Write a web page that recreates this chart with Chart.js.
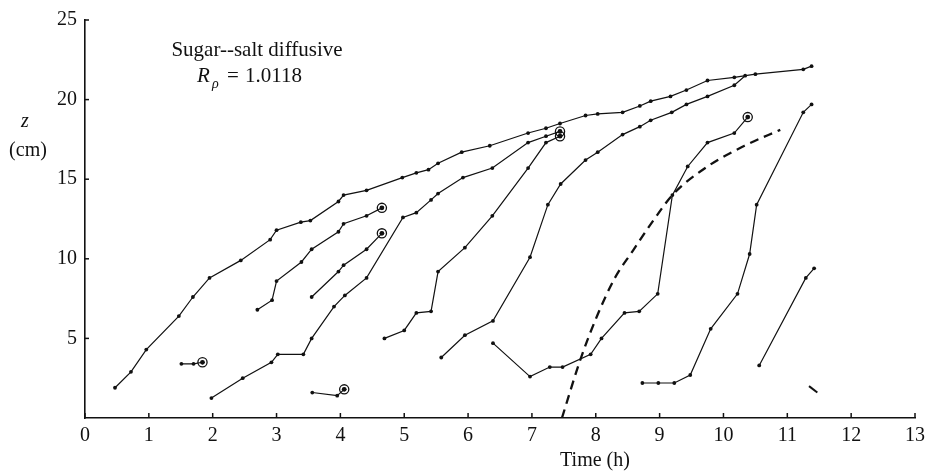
<!DOCTYPE html>
<html>
<head>
<meta charset="utf-8">
<script src="https://cdn.jsdelivr.net/npm/chart.js@4/dist/chart.umd.min.js"></script>
<style>
  html, body { margin: 0; padding: 0; background: #fff; }
  canvas { display: block; }
</style>
</head>
<body>
<canvas id="zplot" width="931" height="474"></canvas>
<script>
// interface heights z (cm) against time (h), one array per tracked layer
const topLayer = [[0.47,1.9],[0.72,2.9],[0.96,4.3],[1.47,6.4],[1.69,7.6],[1.95,8.8],[2.44,9.9],[2.9,11.2],[3.0,11.8],[3.38,12.3],[3.53,12.4],[3.97,13.6],[4.05,14.0],[4.41,14.3],[4.97,15.1],[5.19,15.4],[5.38,15.6],[5.53,16.0],[5.9,16.7],[6.34,17.1],[6.94,17.9],[7.22,18.2],[7.44,18.5],[7.84,19.0],[8.03,19.1],[8.42,19.2],[8.69,19.6],[8.86,19.9],[9.17,20.2],[9.42,20.6],[9.75,21.2],[10.17,21.4],[10.5,21.6],[11.25,21.9],[11.38,22.1]];
const layerB = [[2.7,6.8],[2.93,7.4],[3.0,8.6],[3.39,9.8],[3.55,10.6],[3.97,11.7],[4.05,12.2],[4.41,12.7],[4.65,13.2]];
const layerC = [[3.55,7.6],[3.97,9.2],[4.05,9.6],[4.41,10.6],[4.65,11.6]];
const layerD = [[1.98,1.25],[2.47,2.5],[2.92,3.5],[3.02,4.0],[3.42,4.0],[3.55,5.0],[3.9,7.0],[4.07,7.7],[4.41,8.8],[4.98,12.6],[5.19,12.9],[5.42,13.7],[5.53,14.1],[5.92,15.1],[6.38,15.7],[6.94,17.3],[7.22,17.7],[7.44,18.0]];
const layerE = [[4.69,5.0],[5.0,5.5],[5.19,6.6],[5.42,6.7],[5.53,9.2],[5.95,10.7],[6.38,12.7],[6.94,15.7],[7.22,17.3],[7.44,17.7]];
const layerF = [[5.58,3.8],[5.95,5.2],[6.39,6.1],[6.97,10.1],[7.25,13.4],[7.45,14.7],[7.84,16.2],[8.03,16.7],[8.42,17.8],[8.69,18.3],[8.86,18.7],[9.19,19.2],[9.42,19.7],[9.75,20.2],[10.17,20.9],[10.34,21.5]];
const layerG = [[6.39,4.7],[6.97,2.6],[7.28,3.2],[7.48,3.2],[7.92,4.0],[8.09,5.0],[8.45,6.6],[8.68,6.7],[8.97,7.8],[9.2,14.0],[9.44,15.8],[9.75,17.3],[10.17,17.9],[10.38,18.9]];
const layerH = [[8.73,2.2],[8.98,2.2],[9.23,2.2],[9.48,2.7],[9.8,5.6],[10.22,7.8],[10.41,10.3],[10.52,13.4],[11.25,19.2],[11.38,19.7]];
const layerI = [[10.56,3.3],[11.29,8.8],[11.42,9.4]];
const layerJ = [[11.34,2.0],[11.47,1.6]];
const layerK = [[1.51,3.4],[1.7,3.4],[1.84,3.5]];
const layerL = [[3.56,1.6],[3.95,1.4],[4.06,1.8]];
// dashed front
const frontLine = [[7.47,0],[7.77,3.8],[8.03,6.5],[8.3,8.8],[8.58,10.5],[8.9,12.4],[9.2,14.0],[9.75,15.8],[10.33,17.1],[10.89,18.1]];

const xTicks = [0,1,2,3,4,5,6,7,8,9,10,11,12,13];
const yTicks = [5,10,15,20,25];

const circledEnds = [layerB, layerC, layerD, layerE, layerG, layerK, layerL];

const toPts = arr => arr.map(p => ({x: p[0], y: p[1]}));

const serif = "'Liberation Serif', 'Times New Roman', serif";

function trace(arr, extra) {
  return Object.assign({
    data: toPts(arr),
    showLine: true,
    borderColor: '#111',
    backgroundColor: '#111',
    borderWidth: 1.2,
    pointRadius: 1.9,
    pointBorderWidth: 0,
    tension: 0
  }, extra || {});
}

// inward tick marks plus the free text labels
const decorations = {
  id: 'decorations',
  afterDraw(chart) {
    const {ctx, scales: {x, y}, chartArea: a} = chart;
    ctx.save();
    ctx.strokeStyle = '#111';
    ctx.lineWidth = 1.5;
    xTicks.forEach(v => {
      const px = x.getPixelForValue(v);
      ctx.beginPath(); ctx.moveTo(px, a.bottom); ctx.lineTo(px, a.bottom - 5); ctx.stroke();
    });
    yTicks.forEach(v => {
      const py = y.getPixelForValue(v);
      ctx.beginPath(); ctx.moveTo(a.left, py); ctx.lineTo(a.left + 4, py); ctx.stroke();
    });

    ctx.fillStyle = '#111';
    ctx.textBaseline = 'alphabetic';
    ctx.font = '21px ' + serif;
    ctx.textAlign = 'center';
    ctx.fillText('Sugar--salt diffusive', 257, 56);

    ctx.textAlign = 'left';
    ctx.font = 'italic 21px ' + serif;
    ctx.fillText('R', 197, 82);
    ctx.font = 'italic 14px ' + serif;
    ctx.fillText('ρ', 212, 88);
    ctx.font = '21px ' + serif;
    ctx.fillText('=', 227, 82);
    ctx.fillText('1.0118', 245, 82);

    ctx.textAlign = 'center';
    ctx.font = 'italic 20px ' + serif;
    ctx.fillText('z', 25, 127);
    ctx.font = '20px ' + serif;
    ctx.fillText('(cm)', 28, 156);
    ctx.fillText('Time (h)', 595, 466);
    ctx.restore();
  }
};

const datasets = [
  trace(topLayer), trace(layerB), trace(layerC), trace(layerD), trace(layerE),
  trace(layerF), trace(layerG), trace(layerH), trace(layerI),
  trace(layerJ, {borderWidth: 2, pointRadius: 0}),
  trace(layerK), trace(layerL),
  trace(frontLine, {borderWidth: 2.3, borderDash: [9, 6], pointRadius: 0, cubicInterpolationMode: 'monotone'}),
  {
    data: circledEnds.map(arr => ({x: arr[arr.length - 1][0], y: arr[arr.length - 1][1]})),
    showLine: false,
    pointRadius: 4.6,
    borderColor: '#111',
    borderWidth: 1.3,
    backgroundColor: 'rgba(0,0,0,0)'
  },
  {
    data: circledEnds.map(arr => ({x: arr[arr.length - 1][0], y: arr[arr.length - 1][1]})),
    showLine: false,
    pointRadius: 2.4,
    borderWidth: 0,
    backgroundColor: '#111'
  }
];

new Chart(document.getElementById('zplot'), {
  type: 'scatter',
  data: { datasets: datasets },
  options: {
    responsive: false,
    animation: false,
    devicePixelRatio: 1,
    layout: { padding: { top: 15, right: 13, left: 0, bottom: 0 } },
    plugins: { legend: { display: false }, tooltip: { enabled: false } },
    scales: {
      x: {
        type: 'linear',
        min: 0,
        max: 13,
        afterFit: s => { s.height = 56; },
        afterBuildTicks: s => { s.ticks = xTicks.map(v => ({value: v})); },
        grid: { display: false, drawTicks: false },
        border: { display: true, color: '#111', width: 1.6 },
        ticks: { color: '#111', padding: 6, maxRotation: 0, font: { family: serif, size: 20 } }
      },
      y: {
        type: 'linear',
        min: 0,
        max: 25,
        afterFit: s => { s.width = 85; },
        afterBuildTicks: s => { s.ticks = yTicks.map(v => ({value: v})); },
        grid: { display: false, drawTicks: false },
        border: { display: true, color: '#111', width: 1.6 },
        ticks: { color: '#111', padding: 8, font: { family: serif, size: 20 } }
      }
    }
  },
  plugins: [decorations]
});
</script>
</body>
</html>
